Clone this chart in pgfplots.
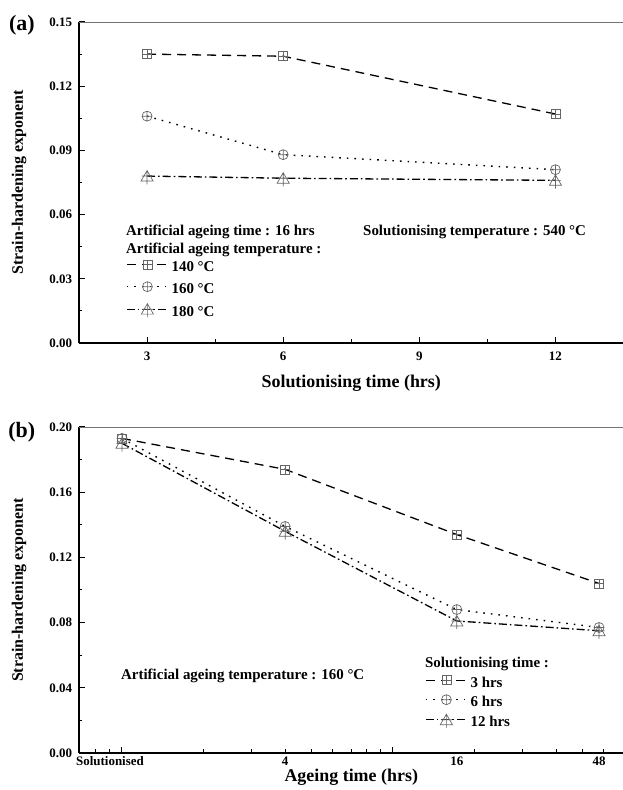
\documentclass[border=0pt]{standalone}
\usepackage{fontspec}
\setmainfont{Liberation Serif}
\usepackage{pgfplots}
\pgfplotsset{compat=1.18}

% square with a plus inside
\pgfdeclareplotmark{sqplus}{%
  \pgfpathrectangle{\pgfpoint{-\pgfplotmarksize}{-\pgfplotmarksize}}{\pgfpoint{2\pgfplotmarksize}{2\pgfplotmarksize}}%
  \pgfpathmoveto{\pgfpoint{-\pgfplotmarksize}{0pt}}\pgfpathlineto{\pgfpoint{\pgfplotmarksize}{0pt}}%
  \pgfpathmoveto{\pgfpoint{0pt}{-\pgfplotmarksize}}\pgfpathlineto{\pgfpoint{0pt}{\pgfplotmarksize}}%
  \pgfusepathqstroke}
% circle with a plus inside
\pgfdeclareplotmark{cplus}{%
  \pgfpathcircle{\pgfpointorigin}{\pgfplotmarksize}%
  \pgfpathmoveto{\pgfpoint{-\pgfplotmarksize}{0pt}}\pgfpathlineto{\pgfpoint{\pgfplotmarksize}{0pt}}%
  \pgfpathmoveto{\pgfpoint{0pt}{-\pgfplotmarksize}}\pgfpathlineto{\pgfpoint{0pt}{\pgfplotmarksize}}%
  \pgfusepathqstroke}
% triangle with a cross
\pgfdeclareplotmark{triplus}{%
  \pgfpathmoveto{\pgfpoint{0pt}{1.0\pgfplotmarksize}}%
  \pgfpathlineto{\pgfpoint{-1.1\pgfplotmarksize}{-0.9\pgfplotmarksize}}%
  \pgfpathlineto{\pgfpoint{1.1\pgfplotmarksize}{-0.9\pgfplotmarksize}}%
  \pgfpathclose
  \pgfpathmoveto{\pgfpoint{0pt}{1.0\pgfplotmarksize}}\pgfpathlineto{\pgfpoint{0pt}{-1.5\pgfplotmarksize}}%
  \pgfpathmoveto{\pgfpoint{-1.0\pgfplotmarksize}{0pt}}\pgfpathlineto{\pgfpoint{1.0\pgfplotmarksize}{0pt}}%
  \pgfusepathqstroke}

\pgfplotsset{
  s1/.style={black, line width=1.3bp, dash pattern=on 9bp off 6bp,
    mark=sqplus, mark size=4.5bp, mark options={solid, draw=black!60, line width=0.7bp}},
  s2/.style={black, line width=1.4bp, dash pattern=on 1.6bp off 6bp,
    mark=cplus, mark size=5bp, mark options={solid, draw=black!60, line width=0.7bp}},
  s3/.style={black, line width=1.3bp, dash pattern=on 8bp off 3bp on 1.6bp off 3bp,
    mark=triplus, mark size=5.5bp, mark options={solid, draw=black!60, line width=0.7bp}},
  common/.style={
    scale only axis, width=544.5bp, clip=false,
    axis x line*=bottom, axis y line*=left,
    every outer x axis line/.append style={-},
    every outer y axis line/.append style={-},
    axis line style={black, line width=1.6bp, -},
    tick align=inside, major tick length=6bp, minor tick length=3.5bp,
    every tick/.style={black, line width=1bp},
    /pgf/number format/assume math mode=true,
    tick label style={font=\fontsize{13}{13}\selectfont\bfseries},
    yticklabel style={xshift=-3.5bp, /pgf/number format/.cd, fixed, fixed zerofill, precision=2},
    label style={font=\fontsize{18}{18}\selectfont\bfseries},
    ylabel style={font=\fontsize{16}{16}\selectfont\bfseries, at={(axis description cs:-0.11,0.5)}, anchor=center},
    legend style={draw=none, fill=none, inner sep=0pt, anchor=north west,
      font=\fontsize{15}{15}\selectfont\bfseries,
      nodes={inner sep=0pt, text height=10bp, text depth=3bp},
      /tikz/every odd column/.append style={column sep=3bp}},
    legend cell align=left,
    legend image code/.code={\draw[mark repeat=2,mark phase=2,yshift=3.5bp,#1] plot coordinates {(0bp,0bp) (20.5bp,0bp) (41bp,0bp)};},
  },
}
\newcommand{\txt}{\fontsize{15}{15}\selectfont\bfseries}

\begin{document}
\begin{tikzpicture}
\path[use as bounding box] (0,0) rectangle (623bp,790bp);

% (a) solutionising time
\begin{axis}[common,
  at={(79bp,447bp)}, anchor=south west, height=321bp,
  xmin=1.5, xmax=13.5, ymin=0, ymax=0.15,
  xtick={3,6,9,12}, minor xtick={4.5,7.5,10.5},
  ytick={0,0.03,0.06,0.09,0.12,0.15}, minor ytick={0.015,0.045,0.075,0.105,0.135},
  xticklabel style={yshift=-5bp},
  xlabel={Solutionising time (hrs)},
  xlabel style={at={(axis description cs:0.5,-0.125)}, anchor=center},
  ylabel={Strain-hardening exponent},
  legend style={at={(rel axis cs:0.0863,0.2586)}, row sep=7bp},
]
\addplot[s1] coordinates {(3,0.135) (6,0.134) (12,0.107)};
\addlegendentry{140 °C}
\addplot[s2] coordinates {(3,0.106) (6,0.088) (12,0.081)};
\addlegendentry{160 °C}
\addplot[s3] coordinates {(3,0.078) (6,0.077) (12,0.076)};
\addlegendentry{180 °C}
\draw[black!55, line width=0.8bp] (rel axis cs:0,1) -- (rel axis cs:1,1);
\node[anchor=west, inner sep=0pt, font=\txt] at (rel axis cs:0.0863,0.3458) {Artificial ageing time : 16 hrs};
\node[anchor=west, inner sep=0pt, font=\txt] at (rel axis cs:0.0863,0.2897) {Artificial ageing temperature :};
\node[anchor=west, inner sep=0pt, font=\txt] at (rel axis cs:0.5216,0.3458) {Solutionising temperature : 540 °C};
\node[font=\fontsize{22}{22}\selectfont\bfseries] at (axis description cs:-0.105,0.99) {(a)};
\end{axis}

% (b) ageing time
\begin{axis}[common,
  at={(79bp,37bp)}, anchor=south west, height=326bp,
  xmode=log, xmin=0.694, xmax=70.9, ymin=0, ymax=0.20,
  xtick={1,10}, xticklabels={,,},
  minor xtick={0.8,0.9,2,3,4,5,6,7,8,9,20,30,40,50,60},
  extra x ticks={0.903,4,17.2,57.6},
  extra x tick labels={Solutionised,4,16,48},
  extra x tick style={major tick length=0pt},
  ytick={0,0.04,0.08,0.12,0.16,0.20}, minor ytick={0.02,0.06,0.10,0.14,0.18},
  xlabel={Ageing time (hrs)},
  xlabel style={at={(axis description cs:0.5,-0.074)}, anchor=center},
  ylabel={Strain-hardening exponent},
  legend style={at={(rel axis cs:0.6354,0.2377)}, row sep=4.5bp},
]
\addplot[s1] coordinates {(1,0.193) (4,0.174) (17.2,0.134) (57.6,0.104)};
\addlegendentry{3 hrs}
\addplot[s2] coordinates {(1,0.193) (4,0.139) (17.2,0.088) (57.6,0.077)};
\addlegendentry{6 hrs}
\addplot[s3] coordinates {(1,0.190) (4,0.136) (17.2,0.081) (57.6,0.075)};
\addlegendentry{12 hrs}
\draw[black!55, line width=0.8bp] (rel axis cs:0,1) -- (rel axis cs:1,1);
\node[anchor=west, inner sep=0pt, font=\txt] at (rel axis cs:0.6354,0.273) {Solutionising time :};
\node[anchor=west, inner sep=0pt, font=\txt] at (rel axis cs:0.0771,0.236) {Artificial ageing temperature : 160 °C};
\node[font=\fontsize{22}{22}\selectfont\bfseries] at (axis description cs:-0.105,0.985) {(b)};
\end{axis}
\end{tikzpicture}
\end{document}
